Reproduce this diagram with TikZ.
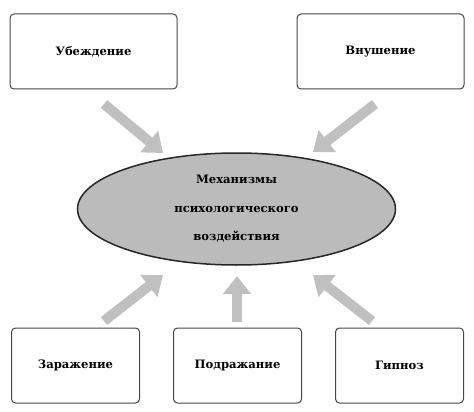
\documentclass[tikz,border=0pt]{standalone}
\usepackage{fontspec}
\setmainfont{DejaVu Serif}
\usetikzlibrary{arrows.meta,shapes.geometric}
\definecolor{arrowgray}{RGB}{192,192,192}
\definecolor{ellgray}{RGB}{187,187,187}
\definecolor{boxline}{RGB}{70,70,70}
\tikzset{
  box/.style={draw=boxline, line width=1pt, rounded corners=4pt, fill=white,
    minimum width=167pt, minimum height=75pt, inner sep=0pt,
    font=\bfseries\fontsize{11.6}{13}\selectfont},
  lowbox/.style={box, minimum width=128pt},
  bigarrow/.style={draw=arrowgray, line width=10pt,
    -{Triangle[length=18pt,width=27pt,fill=arrowgray]}}
}
\begin{document}
\begin{tikzpicture}[x=1pt,y=-1pt]
\useasboundingbox (0,0) rectangle (474,412);
\node[box] (ub) at (93.5,51.5) {Убеждение};
\node[box] (vn) at (380.5,51.5) {Внушение};
\node[ellipse, draw=black!85, line width=1.5pt, fill=ellgray,
  minimum width=318pt, minimum height=112pt, inner sep=0pt,
  align=center, font=\bfseries\fontsize{11.6}{28.5}\selectfont] (m) at (236.5,209)
  {Механизмы\\психологического\\воздействия};
\node[lowbox] (zr) at (75.5,365.5) {Заражение};
\node[lowbox] (pd) at (237.5,365.5) {Подражание};
\node[lowbox] (gp) at (399.5,365.5) {Гипноз};
\coordinate (a1s) at (104,104);
\coordinate (a1e) at (163,153);
\coordinate (a2s) at (375,104);
\coordinate (a2e) at (313,152);
\coordinate (a3s) at (104,321);
\coordinate (a3e) at (163,275);
\coordinate (a4s) at (237,322);
\coordinate (a4e) at (237,276);
\coordinate (a5s) at (372,321);
\coordinate (a5e) at (313,275);
\draw[bigarrow] (a1s) -- (a1e);
\draw[bigarrow] (a2s) -- (a2e);
\draw[bigarrow] (a3s) -- (a3e);
\draw[bigarrow] (a4s) -- (a4e);
\draw[bigarrow] (a5s) -- (a5e);
\end{tikzpicture}
\end{document}
